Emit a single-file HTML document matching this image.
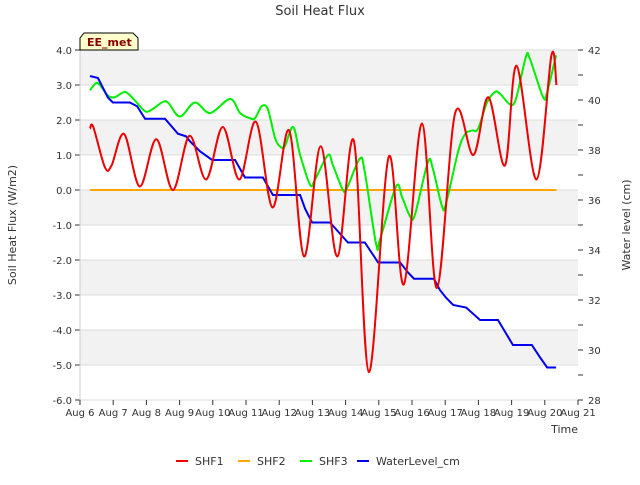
<!DOCTYPE html>
<html><head><meta charset="utf-8"><style>
body{margin:0;background:#fff;font-family:"Liberation Sans","DejaVu Sans",sans-serif;}
svg text{font-family:"DejaVu Sans","Liberation Sans",sans-serif;}
</style></head><body>
<svg id="c" width="640" height="480" xmlns="http://www.w3.org/2000/svg">
<text x="320" y="15" text-anchor="middle" font-size="13" fill="#333">Soil Heat Flux</text>
<g id="bands"></g><g id="axes"></g><g id="series"></g>
<g>
<path d="M80,50 L80,38 L84,33 L133,33 L138,38 L138,50 Z" fill="#ffffcc" stroke="#000" stroke-width="1"/>
<text x="87" y="46" font-size="11" font-weight="bold" fill="#8b0000">EE_met</text></g>
<text x="16" y="225" font-size="11" fill="#333" text-anchor="middle" transform="rotate(-90 16 225)">Soil Heat Flux (W/m2)</text>
<text x="630" y="225" font-size="11" fill="#333" text-anchor="middle" transform="rotate(-90 630 225)">Water level (cm)</text>
<text x="578" y="433" font-size="11" fill="#333" text-anchor="end">Time</text>
<g id="legend"></g>
</svg>
<script>
const xTicks=["Aug 6","Aug 7","Aug 8","Aug 9","Aug 10","Aug 11","Aug 12","Aug 13","Aug 14","Aug 15","Aug 16","Aug 17","Aug 18","Aug 19","Aug 20","Aug 21"];
const yTicks=[4,3,2,1,0,-1,-2,-3,-4,-5,-6];
const y2Ticks=[42,40,38,36,34,32,30,28];
const shf1X=[0.3,0.4,0.75,0.95,1.33,1.8,2.3,2.8,3.3,3.8,4.3,4.8,5.3,5.8,6.3,6.75,7.25,7.75,8.25,8.7,9.3,9.75,10.3,10.75,11.3,11.85,12.3,12.8,13.15,13.75,14.2,14.35];
const shf1Y=[1.75,1.8,0.65,0.7,1.6,0.1,1.45,0.0,1.55,0.3,1.8,0.3,1.95,-0.5,1.7,-1.9,1.25,-1.9,1.4,-5.2,0.95,-2.7,1.9,-2.8,2.2,1.0,2.65,0.7,3.55,0.3,3.85,3.0];
const shf2X=[0.3,14.35];
const shf2Y=[0,0];
const shf3X=[0.3,0.48,0.6,0.84,1.05,1.36,1.66,1.96,2.17,2.47,2.65,3.01,3.46,3.92,4.52,4.82,5.12,5.27,5.48,5.66,5.87,6.02,6.17,6.42,6.63,6.93,7.08,7.47,7.62,7.92,8.04,8.43,8.58,8.92,9.04,9.52,9.7,9.94,10.09,10.48,10.63,10.9,11.02,11.39,11.6,11.81,11.99,12.26,12.5,12.65,12.95,13.13,13.43,13.55,13.95,14.07,14.34];
const shf3Y=[2.85,3.05,3.0,2.7,2.65,2.8,2.55,2.25,2.3,2.5,2.5,2.1,2.5,2.2,2.6,2.2,2.05,2.05,2.4,2.3,1.5,1.25,1.25,1.8,1.0,0.15,0.3,1.0,0.7,0.0,0.05,0.9,0.5,-1.55,-1.4,0.1,-0.2,-0.75,-0.7,0.8,0.6,-0.45,-0.4,1.1,1.6,1.7,1.75,2.5,2.8,2.75,2.45,2.6,3.8,3.75,2.65,2.8,3.85];
const wlX=[0.3,0.54,0.84,0.99,1.5,1.72,1.96,2.56,2.95,3.19,3.31,3.61,3.98,4.67,4.97,5.24,5.51,5.81,6.02,6.63,6.78,6.99,7.53,8.07,8.58,8.98,9.64,9.88,10.06,10.66,10.84,11.02,11.24,11.63,12.05,12.59,12.77,13.04,13.61,13.86,14.07,14.34];
const wlY=[40.96,40.88,40.1,39.9,39.9,39.75,39.25,39.25,38.65,38.55,38.35,37.95,37.6,37.6,36.9,36.9,36.9,36.2,36.2,36.2,35.65,35.1,35.1,34.3,34.3,33.5,33.5,33.1,32.85,32.85,32.4,32.1,31.8,31.7,31.2,31.2,30.8,30.2,30.2,29.7,29.3,29.3];
const X0=80,X1=578,Y0=50,Y1=400;
const xs=d=>X0+d*(X1-X0)/15, ys=v=>Y0+(4-v)*(Y1-Y0)/10, y2=v=>Y0+(42-v)*(Y1-Y0)/14;
const NS="http://www.w3.org/2000/svg";
function mk(p,t,a){const e=document.createElementNS(NS,t);for(const k in a)e.setAttribute(k,a[k]);p.appendChild(e);return e;}
const bands=document.getElementById('bands'),axes=document.getElementById('axes'),ser=document.getElementById('series'),leg=document.getElementById('legend');
for(let i=0;i<10;i++){const r=mk(bands,'rect',{x:X0,y:ys(4-i),width:X1-X0,height:35,fill:i%2==0?'#f2f2f2':'#fff'});

}
yTicks.forEach(v=>{mk(bands,'line',{x1:X0,x2:X1,y1:ys(v),y2:ys(v),stroke:'#dcdcdc','stroke-width':1});
const t=mk(axes,'text',{x:72,y:ys(v)+4,'text-anchor':'end','font-size':10,fill:'#333'});t.textContent=v.toFixed(1);


mk(axes,'line',{x1:X0-5,x2:X0,y1:ys(v),y2:ys(v),stroke:'#333'});});
for(let v=28;v<=42;v++){mk(axes,'line',{x1:X1,x2:X1+5,y1:y2(v),y2:y2(v),stroke:'#333'});}
y2Ticks.forEach(v=>{const t=mk(axes,'text',{x:588,y:y2(v)+4,'font-size':10,fill:'#333'});t.textContent=v;

});
xTicks.forEach((s,i)=>{mk(axes,'line',{x1:xs(i),x2:xs(i),y1:Y1,y2:Y1+5,stroke:'#333'});
const t=mk(axes,'text',{x:xs(i),y:Y1+16,'text-anchor':'middle','font-size':10,fill:'#333'});t.textContent=s;

});
mk(axes,'line',{x1:X0,x2:X0,y1:Y0,y2:Y1,stroke:'#ccc'});
function smooth(P){let d='M'+P[0][0]+','+P[0][1];for(let i=0;i<P.length-1;i++){const p0=P[i-1]||P[i],p1=P[i],p2=P[i+1],p3=P[i+2]||p2;
d+=' C'+(p1[0]+(p2[0]-p0[0])/6)+','+(p1[1]+(p2[1]-p0[1])/6)+' '+(p2[0]-(p3[0]-p1[0])/6)+','+(p2[1]-(p3[1]-p1[1])/6)+' '+p2[0]+','+p2[1];}return d;}
function lin(P){return 'M'+P.map(p=>p[0]+','+p[1]).join(' L');}
const s2=mk(ser,'path',{d:lin(shf2X.map((x,i)=>[xs(x),ys(shf2Y[i])])),stroke:'#ffa500','stroke-width':2,fill:'none'});


const s3=mk(ser,'path',{d:smooth(shf3X.map((x,i)=>[xs(x),ys(shf3Y[i])])),stroke:'#00ee00','stroke-width':2,fill:'none'});


const s4=mk(ser,'path',{d:lin(wlX.map((x,i)=>[xs(x),y2(wlY[i])])),stroke:'#0000ee','stroke-width':2,fill:'none'});


const s1=mk(ser,'path',{d:smooth(shf1X.map((x,i)=>[xs(x),ys(shf1Y[i])])),stroke:'#ee0000','stroke-width':2,fill:'none'});


[['SHF1','#ee0000',176],['SHF2','#ffa500',238],['SHF3','#00ee00',300],['WaterLevel_cm','#0000ee',357]].forEach(([n,c,x])=>{
const g=mk(leg,'g',{});


mk(g,'line',{x1:x,x2:x+12,y1:461,y2:461,stroke:c,'stroke-width':2});
const t=mk(g,'text',{x:x+19,y:465,'font-size':11,fill:'#333'});t.textContent=n;});
</script>
</body></html>
